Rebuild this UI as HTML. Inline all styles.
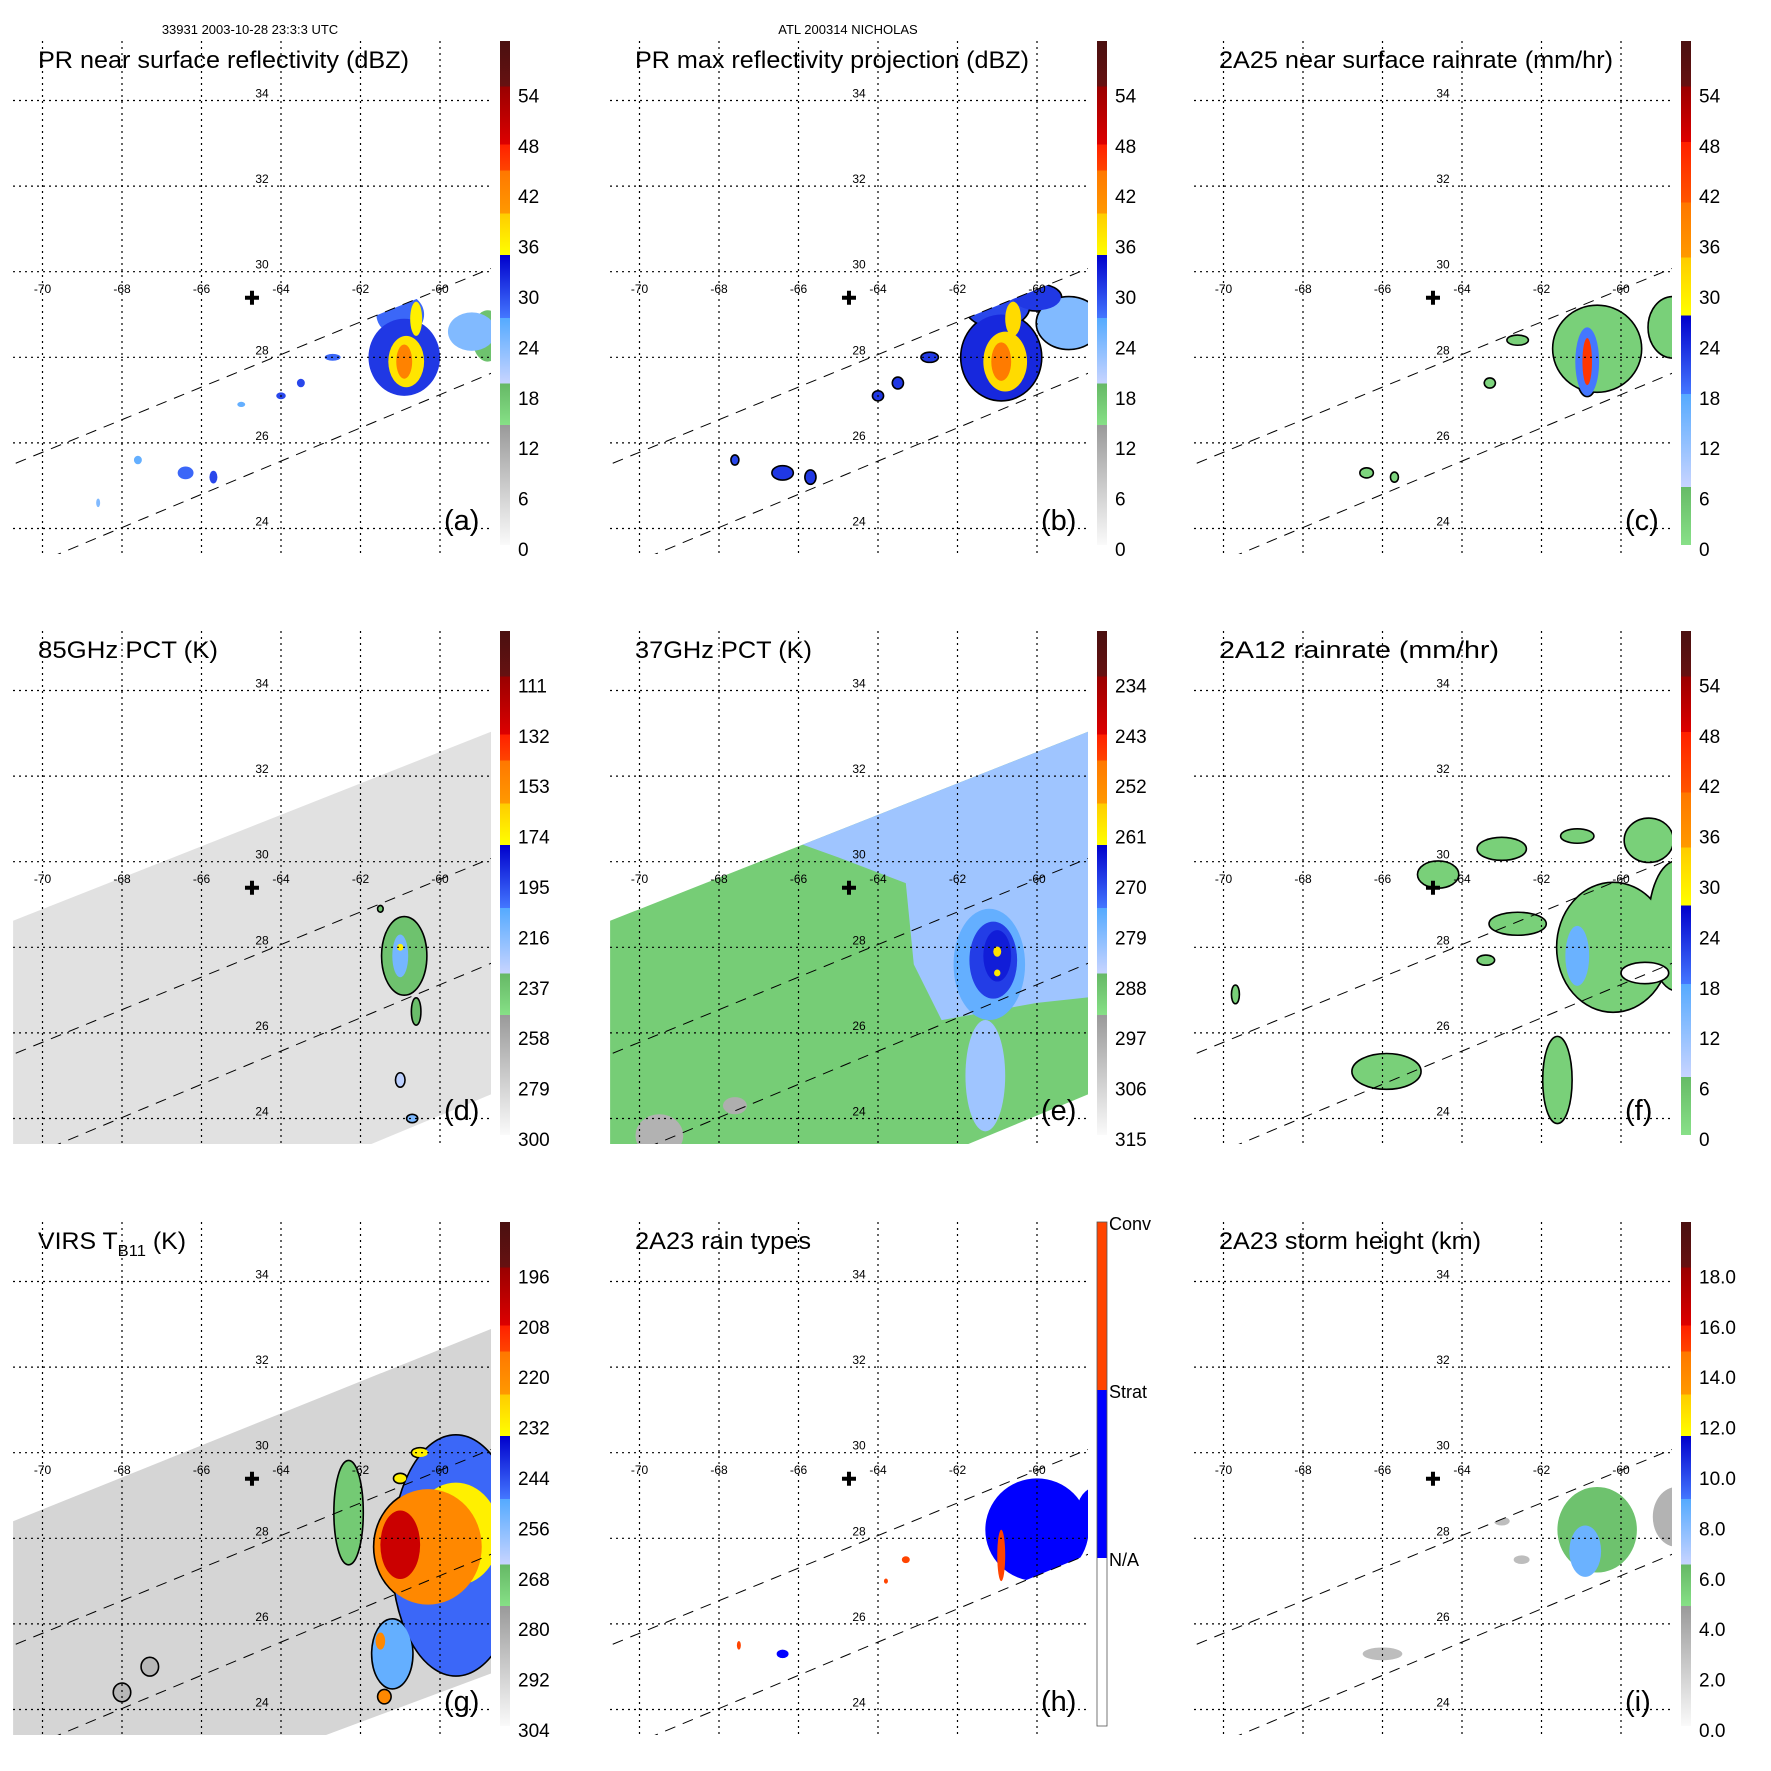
<!DOCTYPE html>
<html><head><meta charset="utf-8">
<style>
html,body{margin:0;padding:0;background:#fff;}
svg{display:block;font-family:"Liberation Sans",sans-serif;}
</style></head>
<body>
<svg id="fig" width="1771" height="1771" viewBox="0 0 1771 1771" xmlns="http://www.w3.org/2000/svg">
<defs>
<clipPath id="mapclip" clipPathUnits="userSpaceOnUse"><rect x="13" y="41" width="478" height="513"/></clipPath>
</defs>
<text x="250" y="34" font-size="13" text-anchor="middle">33931 2003-10-28 23:3:3 UTC</text>
<text x="848" y="34" font-size="13" text-anchor="middle">ATL 200314 NICHOLAS</text>
</svg>
<script>
// ---------- data (lon, lat, rx deg, ry deg, value) ----------
const lonTicks = [-70,-68,-66,-64,-62,-60];
const latTicks = [24,26,28,30,32,34];
const stormCenter = [-64.73, 29.39];

const labelsA = [0,6,12,18,24,30,36,42,48,54];
const labelsD = [300,279,258,237,216,195,174,153,132,111];
const labelsE = [315,306,297,288,279,270,261,252,243,234];
const labelsG = [304,292,280,268,256,244,232,220,208,196];
const labelsI = [0,2,4,6,8,10,12,14,16,18];
const labelsH = ['N/A','Strat','Conv'];

const blobsA = [
 [-58.8,28.5,0.4,0.6,18],[-59.2,28.6,0.6,0.45,24],[-61.0,29.0,0.6,0.5,28],
 [-60.9,28.0,0.9,0.9,31],[-60.85,27.9,0.45,0.6,37],[-60.6,28.9,0.15,0.4,36],
 [-60.9,27.9,0.2,0.4,43],[-63.2,28.7,0.15,0.1,30],[-62.7,28.0,0.2,0.08,28],
 [-63.5,27.4,0.1,0.1,30],[-64.0,27.1,0.12,0.08,30],[-66.4,25.3,0.2,0.15,28],
 [-65.7,25.2,0.1,0.15,30],[-67.6,25.6,0.1,0.1,26],[-68.6,24.6,0.05,0.1,24],[-65.0,26.9,0.1,0.06,26]
];
const blobsB = [
 [-59.2,28.8,0.8,0.6,24],[-61.0,29.2,0.8,0.5,30],[-60.0,29.4,0.6,0.3,31],
 [-60.9,28.0,1.0,1.0,32],[-60.8,27.9,0.55,0.7,38],[-60.6,28.9,0.2,0.4,38],
 [-60.9,27.9,0.25,0.45,44],[-63.2,28.7,0.2,0.12,31],[-62.7,28.0,0.2,0.1,31],
 [-63.5,27.4,0.12,0.12,31],[-64.0,27.1,0.12,0.1,31],[-66.4,25.3,0.25,0.15,31],
 [-65.7,25.2,0.12,0.15,31],[-67.6,25.6,0.08,0.1,30]
];
const blobsC = [
 [-60.6,28.2,1.1,1.0,3],[-58.7,28.7,0.6,0.7,3],[-62.6,28.4,0.25,0.1,3],
 [-60.85,27.9,0.3,0.8,18],[-60.85,27.9,0.12,0.55,45],
 [-63.3,27.4,0.12,0.1,2],[-66.4,25.3,0.15,0.1,2],[-65.7,25.2,0.08,0.1,2]
];
const blobsD = [
 [-60.9,27.8,0.55,0.9,237],[-61.0,27.8,0.2,0.5,213],[-61.0,28.0,0.08,0.08,174],
 [-60.6,26.5,0.1,0.3,235],[-61.0,24.9,0.1,0.15,230],[-60.7,24.0,0.12,0.08,215],[-61.5,28.9,0.05,0.06,237]
];
const blobsE = [
 [-61.3,25.0,0.5,1.3,282],[-61.2,27.6,0.9,1.3,276],[-61.1,27.7,0.6,0.9,269],
 [-61.0,27.8,0.35,0.6,266],[-61.0,27.9,0.1,0.12,259],[-61.0,27.4,0.08,0.08,260],
 [-69.5,23.6,0.6,0.5,299],[-67.6,24.3,0.3,0.2,298]
];
const blobsF = [
 [-60.2,28.0,1.4,1.5,3],[-58.6,28.5,0.7,1.5,3],[-61.6,24.9,0.35,1.0,3],
 [-62.6,28.55,0.7,0.25,3],[-59.3,30.5,0.6,0.5,3],[-61.1,30.6,0.4,0.15,3],
 [-65.9,25.1,0.85,0.4,3],[-64.6,29.7,0.5,0.3,3],[-63.0,30.3,0.6,0.25,3],
 [-69.7,26.9,0.08,0.2,3],[-63.4,27.7,0.2,0.1,3],[-61.1,27.8,0.3,0.7,16]
];
const holesF = [[-59.4,27.4,0.6,0.25]];
const blobsG = [
 [-62.3,28.6,0.35,1.2,270],[-59.6,27.6,1.6,2.8,248],[-61.2,25.3,0.5,0.8,252],
 [-59.6,28.1,1.1,1.2,232],[-60.3,27.8,1.35,1.35,220],[-61.0,27.85,0.5,0.8,205],
 [-60.5,30.0,0.2,0.1,232],[-61.0,29.4,0.15,0.1,232],[-61.5,25.6,0.12,0.2,220],[-61.4,24.3,0.15,0.15,220],
 [-67.3,25.0,0.2,0.2,284],[-68.0,24.4,0.2,0.2,284]
];
const blobsH = [
 [-60.0,28.2,1.3,1.2,1.5],[-58.5,28.6,0.5,0.6,1.5],[-62.9,28.8,0.2,0.15,1.5],
 [-60.9,27.6,0.1,0.6,2.5],[-63.3,27.5,0.1,0.08,2.5],[-66.4,25.3,0.15,0.1,1.5],
 [-67.5,25.5,0.05,0.1,2.5],[-63.8,27.0,0.05,0.06,2.5]
];
const blobsI = [
 [-58.6,28.5,0.6,0.7,3.5],[-60.6,28.2,1.0,1.0,6.0],[-60.9,27.7,0.4,0.6,8.5],
 [-63.0,28.4,0.2,0.1,3.0],[-66.0,25.3,0.5,0.15,3.0],[-62.5,27.5,0.2,0.1,3.0]
];

// ---------- geometry ----------
function X(lon){return 42.5+(lon+70)*39.75;}
function Y(lat){return 528.5-(lat-24)*42.8;}
const prSwath = [[-72,25.02],[-56,31.11],[-56,28.68],[-72,22.47]];
const tmiSwath = [[-70.74,28.62],[-57.97,33.31],[-57.97,24.85],[-62,23.3],[-70.74,23.3]];
const virsSwath = [[-70.74,28.4],[-57.97,33.17],[-57.97,25.1],[-63.17,23.3],[-70.74,23.3]];
const eLightBlue = [[-72,31.6],[-66.8,30.7],[-65,30.1],[-63.3,29.5],[-63.1,27.6],[-62.4,26.3],[-60,26.7],[-56,27.1],[-56,36],[-72,36]];

// ---------- colormaps: [f0,f1,c0,c1] ----------
const cmapA = [[0,0.238,'#fafafa','#9a9a9a'],[0.238,0.32,'#86e086','#66b866'],[0.32,0.45,'#c8d4ff','#55aaff'],
 [0.45,0.575,'#4477ff','#0000cc'],[0.575,0.658,'#ffff00','#ffcc00'],[0.658,0.743,'#ff9900','#ff7700'],
 [0.743,0.795,'#ff4400','#ff2000'],[0.795,0.91,'#dd0000','#990000'],[0.91,1,'#661111','#4a1010']];
const cmapC = [[0,0.115,'#88e088','#66bb66'],[0.115,0.30,'#c8d4ff','#55aaff'],[0.30,0.455,'#4477ff','#0000cc'],
 [0.455,0.57,'#ffff00','#ffcc00'],[0.57,0.68,'#ff9900','#ff7700'],[0.68,0.8,'#ff5500','#ff2000'],
 [0.8,0.91,'#dd0000','#990000'],[0.91,1,'#661111','#4a1010']];
const cmapH = [[0,1/3,'#ffffff','#ffffff'],[1/3,2/3,'#0000ff','#0000ff'],[2/3,1,'#ff4400','#ff4400']];

function hex(c){return [parseInt(c.substr(1,2),16),parseInt(c.substr(3,2),16),parseInt(c.substr(5,2),16)];}
function colorAt(cm,f){
  f=Math.max(0,Math.min(0.9999,f));
  for(const b of cm){ if(f>=b[0]&&f<b[1]){ const t=(f-b[0])/(b[1]-b[0]); const a=hex(b[2]),c=hex(b[3]);
    return 'rgb('+a.map((v,i)=>Math.round(v+(c[i]-v)*t)).join(',')+')'; } }
  return cm[cm.length-1][3];
}

const NS='http://www.w3.org/2000/svg';
const svg=document.getElementById('fig');
function mk(tag,attrs,parent){const e=document.createElementNS(NS,tag);for(const k in attrs)e.setAttribute(k,attrs[k]);parent.appendChild(e);return e;}
function poly(pts){return pts.map(p=>X(p[0]).toFixed(1)+','+Y(p[1]).toFixed(1)).join(' ');}

const defs=svg.querySelector('defs');
[['prclip',prSwath],['tmiclip',tmiSwath],['virsclip',virsSwath]].forEach(([id,pts])=>{
  const cp=mk('clipPath',{id:id,clipPathUnits:'userSpaceOnUse'},defs);
  mk('polygon',{points:poly(pts)},cp);
});

const panels=[
 {key:'a',ox:0,oy:0,title:'PR near surface reflectivity (dBZ)',tl:371,cm:cmapA,vb:0,vt:60,labels:labelsA,blobs:blobsA,clip:'prclip',outline:false},
 {key:'b',ox:597,oy:0,title:'PR max reflectivity projection (dBZ)',tl:394,cm:cmapA,vb:0,vt:60,labels:labelsA,blobs:blobsB,clip:'prclip',outline:true},
 {key:'c',ox:1181,oy:0,title:'2A25 near surface rainrate (mm/hr)',tl:394,cm:cmapC,vb:0,vt:60,labels:labelsA,blobs:blobsC,clip:'prclip',outline:true},
 {key:'d',ox:0,oy:590,title:'85GHz PCT (K)',tl:180,cm:cmapA,vb:300,vt:90,labels:labelsD,blobs:blobsD,clip:'tmiclip',outline:true,bg:'tmi',bgv:287},
 {key:'e',ox:597,oy:590,title:'37GHz PCT (K)',tl:177,cm:cmapA,vb:315,vt:225,labels:labelsE,blobs:blobsE,clip:'tmiclip',outline:false,bg:'tmi',bgv:290},
 {key:'f',ox:1181,oy:590,title:'2A12 rainrate (mm/hr)',tl:280,cm:cmapC,vb:0,vt:60,labels:labelsA,blobs:blobsF,clip:null,outline:true},
 {key:'g',ox:0,oy:1181,title:'VIRS',tl:148,cm:cmapA,vb:304,vt:184,labels:labelsG,blobs:blobsG,clip:'virsclip',outline:true,bg:'virs',bgv:293},
 {key:'h',ox:597,oy:1181,title:'2A23 rain types',tl:176,cm:cmapH,vb:0,vt:3,labels:null,blobs:blobsH,clip:'prclip',outline:false},
 {key:'i',ox:1181,oy:1181,title:'2A23 storm height (km)',tl:262,cm:cmapA,vb:0,vt:20,labels:labelsI,blobs:blobsI,clip:'prclip',outline:false}
];

function frac(p,v){return (v-p.vb)/(p.vt-p.vb);}

panels.forEach(p=>{
  const g=mk('g',{transform:'translate('+p.ox+','+p.oy+')'},svg);
  
  
  const mapG=mk('g',{'clip-path':'url(#mapclip)'},g);
  
  

  if(p.bg){
    const pts=p.bg==='tmi'?tmiSwath:virsSwath;
    const bgp=mk('polygon',{points:poly(pts),fill:colorAt(p.cm,frac(p,p.bgv))},mapG);
    
    
    if(p.key==='e'){
      const lb=mk('polygon',{points:poly(eLightBlue),fill:colorAt(p.cm,frac(p,282)),'clip-path':'url(#tmiclip)'},mapG);
      
      
    }
    const edge=mk('line',{x1:X(-58.3),y1:Y(33.1),x2:X(-57.97),y2:Y(33.05),stroke:'#000','stroke-width':3},mapG);
    
    
  }

  const dg=mk('g',p.clip?{'clip-path':'url(#'+p.clip+')'}:{},mapG);
  
  
  if(p.outline){
    p.blobs.forEach(b=>{
      const o=mk('ellipse',{cx:X(b[0]),cy:Y(b[1]),rx:b[2]*39.75,ry:b[3]*42.8,fill:'none',stroke:'#000','stroke-width':3.2},dg);
      
      
    });
  }
  p.blobs.forEach(b=>{
    const e=mk('ellipse',{cx:X(b[0]),cy:Y(b[1]),rx:b[2]*39.75,ry:b[3]*42.8,fill:colorAt(p.cm,frac(p,b[4]))},dg);
    
    
  });
  if(p.key==='f'){
    holesF.forEach(h=>{
      const e=mk('ellipse',{cx:X(h[0]),cy:Y(h[1]),rx:h[2]*39.75,ry:h[3]*42.8,fill:'#fff',stroke:'#000','stroke-width':1.6},dg);
      
      
    });
  }

  [[prSwath[0],prSwath[1]],[prSwath[3],prSwath[2]]].forEach((seg,i)=>{
    const l=mk('line',{x1:X(seg[0][0]),y1:Y(seg[0][1]),x2:X(seg[1][0]),y2:Y(seg[1][1]),stroke:'#000','stroke-width':1,'stroke-dasharray':'11,8'},mapG);
    
    
  });

  lonTicks.forEach(lon=>{
    const l=mk('line',{x1:X(lon),y1:41,x2:X(lon),y2:554,stroke:'#000','stroke-width':1.2,'stroke-dasharray':'2,4'},g);
    
    
    const t=mk('text',{x:X(lon),y:293,'font-size':12,'text-anchor':'middle'},g);
    t.textContent=String(lon);
    
    
  });
  latTicks.forEach(lat=>{
    const l=mk('line',{x1:13,y1:Y(lat),x2:491,y2:Y(lat),stroke:'#000','stroke-width':1.2,'stroke-dasharray':'2,4'},g);
    
    
    const t=mk('text',{x:262,y:Y(lat)-3,'font-size':12,'text-anchor':'middle'},g);
    t.textContent=String(lat);
    
    
  });

  const cx=X(stormCenter[0]),cy=Y(stormCenter[1]);
  const cr=mk('path',{d:'M'+(cx-7)+' '+cy+'H'+(cx+7)+'M'+cx+' '+(cy-7)+'V'+(cy+7),stroke:'#000','stroke-width':4},g);
  
  

  const tt=mk('text',{x:38,y:68,'font-size':24,textLength:p.tl,lengthAdjust:'spacingAndGlyphs'},g);
  
  
  if(p.key==='g'){
    tt.textContent='VIRS T';
    const s=mk('tspan',{'font-size':16,dy:7},tt); s.textContent='B11';
    const s2=mk('tspan',{dy:-7},tt); s2.textContent=' (K)';
  } else tt.textContent=p.title;

  const lt=mk('text',{x:444,y:530,'font-size':29},g);
  lt.textContent='('+p.key+')';
  
  

  const gid='grad'+p.key;
  const lg=mk('linearGradient',{id:gid,x1:0,y1:1,x2:0,y2:0},defs);
  p.cm.forEach(b=>{mk('stop',{offset:b[0],'stop-color':b[2]},lg);mk('stop',{offset:b[1],'stop-color':b[3]},lg);});
  const cbT=41,cbB=545;
  const cb=mk('rect',{x:500,y:cbT,width:10,height:cbB-cbT,fill:'url(#'+gid+')',stroke:p.key==='h'?'#555':'none','stroke-width':0.8},g);
  
  
  if(p.labels){
    p.labels.forEach(v=>{
      const y=cbB-frac(p,v)*(cbB-cbT);
      const t=mk('text',{x:518,y:y+11,'font-size':19},g);
      t.textContent=(p.key==='i')?v.toFixed(1):String(v);
      
      
    });
  } else {
    labelsH.forEach((s,i)=>{
      const y=cbB-(i+1)/3*(cbB-cbT);
      const t=mk('text',{x:512,y:y+8,'font-size':18},g);
      t.textContent=s;
      
      
    });
  }
});
</script>
</body></html>
